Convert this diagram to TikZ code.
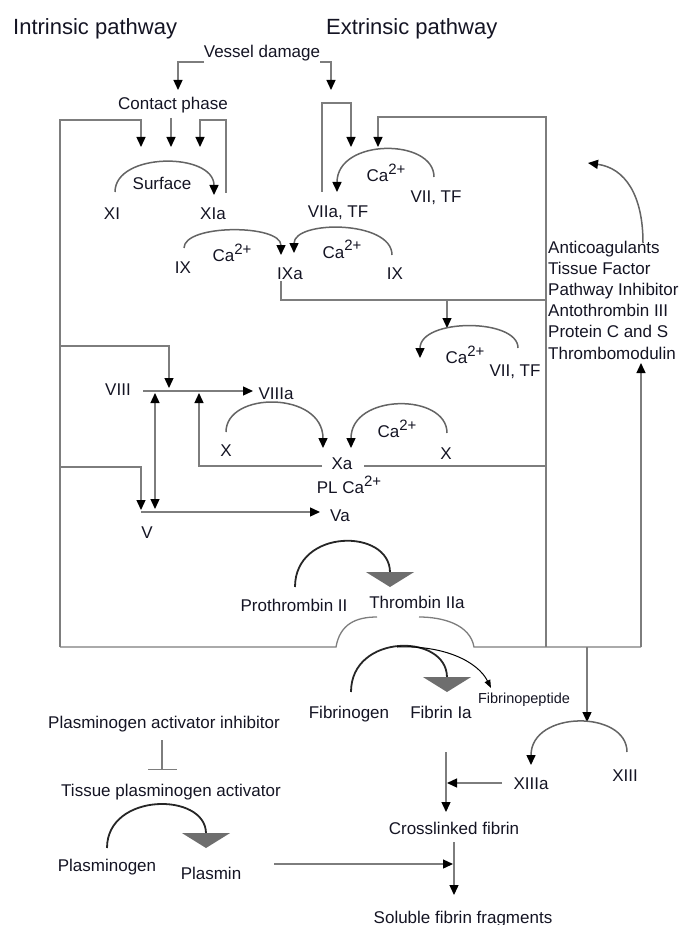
\documentclass[tikz,border=0pt]{standalone}
\usepackage{fontspec}
\setmainfont{Liberation Sans}
\usetikzlibrary{arrows.meta}

\definecolor{wiregray}{RGB}{125,125,125}
\definecolor{arcgray}{RGB}{100,100,100}
\definecolor{tipgray}{RGB}{110,110,110}
\definecolor{ink}{RGB}{20,20,35}

\newcommand{\caion}{Ca\raisebox{7pt}{\fontsize{15}{16}\selectfont 2+}}

\begin{document}
\begin{tikzpicture}[
    x=1pt, y=-1pt,
    lbl/.style={font=\fontsize{17}{20}\selectfont, text=ink, inner sep=0pt, anchor=base},
    ttl/.style={font=\fontsize{22}{26}\selectfont, text=ink, inner sep=0pt, anchor=base west},
    smalllbl/.style={font=\fontsize{14.5}{17}\selectfont, text=ink, inner sep=0pt, anchor=base},
    wire/.style={line width=1.3pt, draw=wiregray},
    arr/.style={wire, -{Triangle[length=10pt,width=9pt,color=black]}},
    dbl/.style={wire, {Triangle[length=10pt,width=9pt,color=black]}-{Triangle[length=10pt,width=9pt,color=black]}},
    cyc/.style={line width=1.5pt, draw=arcgray},
    cycarr/.style={cyc, -{Triangle[length=10pt,width=9pt,color=black]}},
    conv/.style={line width=1.8pt, draw=black!85, -{Triangle[length=15pt,width=48pt,color=tipgray]}},
    thinarr/.style={line width=1pt, draw=black, -{Triangle[length=8pt,width=6pt]}},
    block/.style={wire, -{Bar[width=29pt]}},
]
\useasboundingbox (0,0) rectangle (686,925);

% ---- headings ----
\node[ttl] (intr) at (13,35) {Intrinsic pathway};
\node[ttl] (extr) at (326,35) {Extrinsic pathway};

% ---- labels, top half ----
\node[lbl] (vessel)  at (262,58)  {Vessel damage};
\node[lbl] (contact) at (173,110) {Contact phase};
\node[lbl] (surf)    at (162,190) {Surface};
\node[lbl] (f11)     at (112,219) {XI};
\node[lbl] (f11a)    at (213,219) {XIa};
\node[lbl] (caA)     at (386,182) {\caion};
\node[lbl] (f7tfA)   at (436,203) {VII, TF};
\node[lbl] (f7atf)   at (338,218) {VIIa, TF};
\node[lbl] (f9L)     at (183,273) {IX};
\node[lbl] (caB)     at (232,261) {\caion};
\node[lbl] (f9a)     at (290,279) {IXa};
\node[lbl] (caC)     at (342,258) {\caion};
\node[lbl] (f9R)     at (395,279) {IX};
\node[lbl] (caD)     at (465,363) {\caion};
\node[lbl] (f7tfB)   at (515,376) {VII, TF};
\node[lbl, anchor=north west, align=left, font=\fontsize{17}{21.2}\selectfont] (anti) at (548,240.5)
  {Anticoagulants\\Tissue Factor\\Pathway Inhibitor\\Antothrombin III\\Protein C and S\\Thrombomodulin};

% ---- labels, common pathway ----
\node[lbl] (f8)     at (118,395) {VIII};
\node[lbl] (f8a)    at (276,399) {VIIIa};
\node[lbl] (f10L)   at (226,456) {X};
\node[lbl] (caE)    at (397,437) {\caion};
\node[lbl] (f10R)   at (446,459) {X};
\node[lbl] (f10a)   at (342,469) {Xa};
\node[lbl] (plca)   at (349,493) {PL \caion};
\node[lbl] (f5)     at (147,538) {V};
\node[lbl] (f5a)    at (340,521) {Va};
\node[lbl] (prothr) at (294,611) {Prothrombin II};
\node[lbl] (thromb) at (417,608) {Thrombin IIa};

% ---- labels, fibrin and fibrinolysis ----
\node[lbl] (fibgen)  at (349,718) {Fibrinogen};
\node[lbl] (fib1a)   at (441,718) {Fibrin Ia};
\node[smalllbl] (fpep) at (524,703) {Fibrinopeptide};
\node[lbl] (pai)     at (164,728) {Plasminogen activator inhibitor};
\node[lbl] (tpa)     at (171,796) {Tissue plasminogen activator};
\node[lbl] (plgen)   at (107,871) {Plasminogen};
\node[lbl] (plasmin) at (211,879) {Plasmin};
\node[lbl] (f13)     at (625,781) {XIII};
\node[lbl] (f13a)    at (531,789) {XIIIa};
\node[lbl] (xfib)    at (454,834) {Crosslinked fibrin};
\node[lbl] (sff)     at (463,923) {Soluble fibrin fragments};

% ---- connector ends ----
\coordinate (vdL) at (204,62);    \coordinate (cpTop) at (178,90);
\coordinate (vdR) at (320,62);    \coordinate (exTop) at (331,90);
\coordinate (boxTL) at (60,120);  \coordinate (boxBL) at (60,647);
\coordinate (in1) at (141,147);
\coordinate (in2s) at (171,118);  \coordinate (in2) at (171,147);
\coordinate (in3) at (200,147);
\coordinate (xiaUp) at (226,193); \coordinate (xiaTop) at (226,120);
\coordinate (f7aUp) at (322,192); \coordinate (extBend) at (322,103);
\coordinate (ex1) at (351,147);
\coordinate (rInB) at (546,647);  \coordinate (rInT) at (546,117);
\coordinate (ex2) at (378,147);
\coordinate (rOutB) at (641,647); \coordinate (rOutT) at (641,363);
\coordinate (f9aDn) at (281,281); \coordinate (midR) at (546,300);
\coordinate (tf2s) at (447,300);  \coordinate (tf2) at (447,328);
\coordinate (l8) at (60,346);     \coordinate (d8) at (169,388);
\coordinate (f8R) at (143,391);   \coordinate (f8aL) at (253,391);
\coordinate (dbTop) at (155,393); \coordinate (dbBot) at (155,509);
\coordinate (xaL) at (322,466);   \coordinate (up8) at (199,393);
\coordinate (xaR) at (364,466);   \coordinate (midR2) at (546,466);
\coordinate (l5) at (60,467);     \coordinate (d5) at (141,510);
\coordinate (f5R) at (141,512);   \coordinate (f5aL) at (320,512);
\coordinate (humpL) at (336,647); \coordinate (humpR) at (474,647);
\coordinate (d13s) at (587,647);  \coordinate (d13) at (587,722);
\coordinate (fibDn) at (446,752); \coordinate (fibIn) at (446,812);
\coordinate (f13aL) at (502,783); \coordinate (f13in) at (447,783);
\coordinate (xfibDn) at (454,842);\coordinate (sffTop) at (454,895);
\coordinate (plR) at (274,864);   \coordinate (plIn) at (453,864);
\coordinate (paiDn) at (162,740); \coordinate (tpaTop) at (162,770);

% ---- intrinsic and extrinsic start ----
\draw[arr] (vdL) -| (cpTop);
\draw[arr] (vdR) -| (exTop);
\draw[arr] (boxBL) -- (boxTL) -| (in1);
\draw[arr] (in2s) -- (in2);
\draw[arr] (xiaUp) -- (xiaTop) -| (in3);
\draw[cycarr] (115,192) .. controls (115,152) and (214,152) .. (214,195);
\draw[arr] (f7aUp) -- (extBend) -| (ex1);
\draw[arr] (rInB) -- (rInT) -| (ex2);
\draw[cycarr] (434,177) .. controls (434,138) and (337,138) .. (337,192);
\draw[cycarr] (643,243) .. controls (643,195) and (625,168) .. (588,163);

% ---- factor IX ----
\draw[cycarr] (184,248) .. controls (184,224) and (281,224) .. (281,255);
\draw[cycarr] (392,255) .. controls (392,220) and (294,220) .. (294,253);
\draw[wire] (f9aDn) |- (midR);
\draw[arr] (tf2s) -- (tf2);
\draw[cycarr] (518,348) .. controls (518,318) and (420,318) .. (420,358);
\draw[arr] (rOutB) -- (rOutT);

% ---- factors VIII, X and V ----
\draw[arr] (l8) -| (d8);
\draw[arr] (f8R) -- (f8aL);
\draw[dbl] (dbTop) -- (dbBot);
\draw[arr] (xaL) -| (up8);
\draw[wire] (xaR) -- (midR2);
\draw[arr] (l5) -| (d5);
\draw[arr] (f5R) -- (f5aL);
\draw[cycarr] (226,432) .. controls (226,391) and (323,391) .. (323,448);
\draw[cycarr] (447,433) .. controls (447,393) and (351,393) .. (351,448);

% ---- thrombin ----
\draw[conv] (295,587) .. controls (295,528) and (390,528) .. (390,587);
\draw[wire] (boxBL) -- (humpL) .. controls (340,624) and (356,617) .. (377,617);
\draw[wire] (419,617) .. controls (442,617) and (470,624) .. (humpR) -- (rOutB);
\draw[arr] (d13s) -- (d13);

% ---- fibrin ----
\draw[conv] (351,692) .. controls (351,633) and (447,633) .. (447,692);
\draw[thinarr] (397,647) .. controls (445,645) and (478,662) .. (491,688);
\draw[cycarr] (627,752) .. controls (627,710) and (531,710) .. (531,765);
\draw[arr] (fibDn) -- (fibIn);
\draw[arr] (f13aL) -- (f13in);
\draw[arr] (xfibDn) -- (sffTop);
\draw[arr] (plR) -- (plIn);

% ---- fibrinolysis ----
\draw[block] (paiDn) -- (tpaTop);
\draw[conv] (107,848) .. controls (107,792) and (206,792) .. (206,848);

\end{tikzpicture}
\end{document}
